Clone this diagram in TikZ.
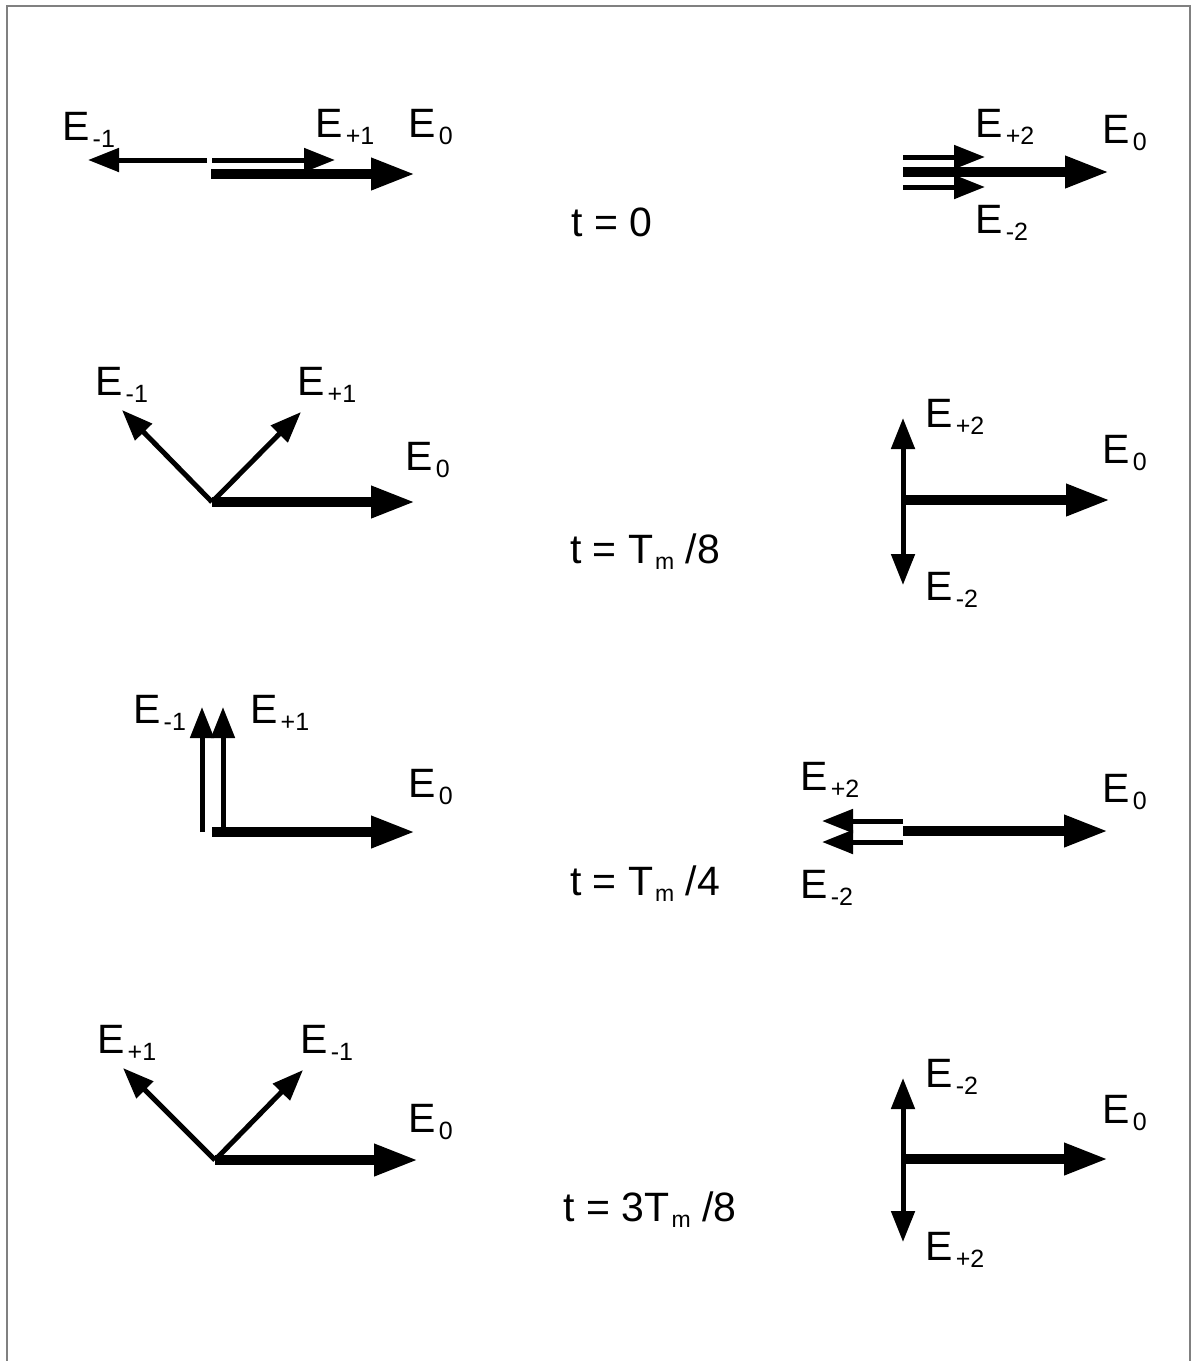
\documentclass[tikz,border=0pt]{standalone}
\usepackage{fontspec}
\setmainfont{Liberation Sans}
\usetikzlibrary{arrows.meta}
\newcommand{\Ev}[1]{E\kern1.5pt\raisebox{-3.5pt}{\fontsize{12.5}{12.5}\selectfont #1}}
\newcommand{\Tm}{T\kern1pt\raisebox{-3pt}{\fontsize{11.5}{11.5}\selectfont m}}

\begin{document}
\begin{tikzpicture}[x=0.5pt, y=-0.5pt, font=\fontsize{20.5}{23}\selectfont,
          thickvec/.style={-{Triangle[length=22pt,width=15pt]}, line width=4.9pt},
          thinvec/.style={-{Triangle[length=15.5pt,width=11.5pt]}, line width=2.5pt},
          elab/.style={anchor=base west, inner sep=0pt},
          tlab/.style={inner sep=0pt}]
        \useasboundingbox (0,0) rectangle (1193,1361);
        \draw [gray, line width=0.6pt] (7,1361) -- (7,6) -- (1190,6) -- (1190,1361);

        % t = 0
        \coordinate (a1o) at (211,174);  \coordinate (a1e0) at (415,174);
        \coordinate (a1m) at (207,160);  \coordinate (a1mt) at (88,160);
        \coordinate (a1p) at (212,160);  \coordinate (a1pt) at (335,160);
        \draw [thinvec] (a1m) -- (a1mt);
        \draw [thinvec] (a1p) -- (a1pt);
        \draw [thickvec] (a1o) -- (a1e0);
        \node [elab] (l1m) at (62,140) {\Ev{-1}};
        \node [elab] (l1p) at (315,137) {\Ev{+1}};
        \node [elab] (l1z) at (408,137) {\Ev{0}};

        \coordinate (b1o) at (903,172);  \coordinate (b1e0) at (1109,172);
        \coordinate (b1p) at (903,157);  \coordinate (b1pt) at (985,157);
        \coordinate (b1m) at (903,187);  \coordinate (b1mt) at (985,187);
        \draw [thinvec] (b1p) -- (b1pt);
        \draw [thinvec] (b1m) -- (b1mt);
        \draw [thickvec] (b1o) -- (b1e0);
        \node [elab] (r1p) at (975,137) {\Ev{+2}};
        \node [elab] (r1m) at (975,233) {\Ev{-2}};
        \node [elab] (r1z) at (1102,143) {\Ev{0}};

        \node [tlab] (t1) at (612,222) {t = 0};

        % t = Tm/8
        \coordinate (a2o) at (212,502);  \coordinate (a2e0) at (415,502);
        \coordinate (a2mt) at (122,410); \coordinate (a2pt) at (301,412);
        \draw [thinvec] (a2o) -- (a2mt);
        \draw [thinvec] (a2o) -- (a2pt);
        \draw [thickvec] (a2o) -- (a2e0);
        \node [elab] (l2m) at (95,395) {\Ev{-1}};
        \node [elab] (l2p) at (297,395) {\Ev{+1}};
        \node [elab] (l2z) at (405,470) {\Ev{0}};

        \coordinate (b2o) at (903,500);  \coordinate (b2e0) at (1110,500);
        \coordinate (b2pt) at (903,418); \coordinate (b2mt) at (903,585);
        \draw [thinvec] (b2o) -- (b2pt);
        \draw [thinvec] (b2o) -- (b2mt);
        \draw [thickvec] (b2o) -- (b2e0);
        \node [elab] (r2p) at (925,427) {\Ev{+2}};
        \node [elab] (r2m) at (925,600) {\Ev{-2}};
        \node [elab] (r2z) at (1102,463) {\Ev{0}};

        \node [tlab] (t2) at (645,552) {t = \Tm\ /8};

        % t = Tm/4
        \coordinate (a3o) at (212,832);  \coordinate (a3e0) at (415,832);
        \coordinate (a3m) at (202,832);  \coordinate (a3mt) at (202,707);
        \coordinate (a3p) at (223,828);  \coordinate (a3pt) at (223,707);
        \draw [thinvec] (a3m) -- (a3mt);
        \draw [thinvec] (a3p) -- (a3pt);
        \draw [thickvec] (a3o) -- (a3e0);
        \node [elab] (l3m) at (133,723) {\Ev{-1}};
        \node [elab] (l3p) at (250,723) {\Ev{+1}};
        \node [elab] (l3z) at (408,797) {\Ev{0}};

        \coordinate (b3o) at (903,831);  \coordinate (b3e0) at (1108,831);
        \coordinate (b3p) at (903,821);  \coordinate (b3pt) at (822,821);
        \coordinate (b3m) at (903,842);  \coordinate (b3mt) at (822,842);
        \draw [thinvec] (b3p) -- (b3pt);
        \draw [thinvec] (b3m) -- (b3mt);
        \draw [thickvec] (b3o) -- (b3e0);
        \node [elab] (r3p) at (800,790) {\Ev{+2}};
        \node [elab] (r3m) at (800,898) {\Ev{-2}};
        \node [elab] (r3z) at (1102,802) {\Ev{0}};

        \node [tlab] (t3) at (645,884) {t = \Tm\ /4};

        % t = 3Tm/8
        \coordinate (a4o) at (215,1160); \coordinate (a4e0) at (418,1160);
        \coordinate (a4pt) at (123,1068); \coordinate (a4mt) at (303,1070);
        \draw [thinvec] (a4o) -- (a4pt);
        \draw [thinvec] (a4o) -- (a4mt);
        \draw [thickvec] (a4o) -- (a4e0);
        \node [elab] (l4p) at (97,1053) {\Ev{+1}};
        \node [elab] (l4m) at (300,1053) {\Ev{-1}};
        \node [elab] (l4z) at (408,1132) {\Ev{0}};

        \coordinate (b4o) at (903,1159); \coordinate (b4e0) at (1108,1159);
        \coordinate (b4mt) at (903,1078); \coordinate (b4pt) at (903,1242);
        \draw [thinvec] (b4o) -- (b4mt);
        \draw [thinvec] (b4o) -- (b4pt);
        \draw [thickvec] (b4o) -- (b4e0);
        \node [elab] (r4m) at (925,1087) {\Ev{-2}};
        \node [elab] (r4p) at (925,1260) {\Ev{+2}};
        \node [elab] (r4z) at (1102,1123) {\Ev{0}};

        \node [tlab] (t4) at (650,1210) {t = 3\Tm\ /8};
      \end{tikzpicture}
\end{document}
